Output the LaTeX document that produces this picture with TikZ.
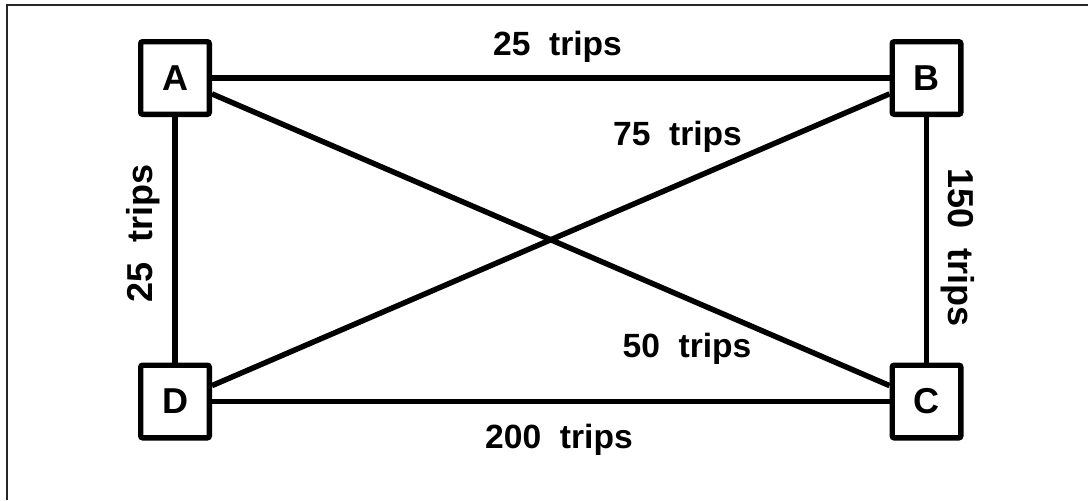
\documentclass[tikz,border=0pt]{standalone}
\usepackage{fontspec}
\setmainfont{Liberation Sans}
\begin{document}
\begin{tikzpicture}[x=0.75pt,y=-0.75pt,
  site/.style={draw=black, line width=4.1pt, rounded corners=1.5pt, fill=white,
    minimum width=51.4pt, minimum height=54.4pt, inner sep=0pt,
    font=\bfseries\fontsize{27}{30}\selectfont},
  link/.style={draw=black, line width=4.1pt},
  lbl/.style={inner sep=0pt, anchor=base, font=\bfseries\fontsize{25.2}{30}\selectfont},
  vlbl/.style={lbl, font=\bfseries\fontsize{27}{30}\selectfont},
  frame/.style={draw=black!85, line width=1.5pt}]
\useasboundingbox (0,0) rectangle (1088,500);
\coordinate (f1) at (6.5,500);
\coordinate (f2) at (6.5,5);
\coordinate (f3) at (1088,5);
\draw[frame] (f1) -- (f2) -- (f3);
\node[site] (A) at (175,78) {A};
\node[site] (B) at (926.5,78) {B};
\node[site] (C) at (926.5,401.5) {C};
\node[site] (D) at (175,401.5) {D};
\draw[link] (A) -- (B);
\draw[link] (A) -- (D);
\draw[link] (B) -- (C);
\draw[link] (D) -- (C);
\draw[link] (A) -- (C);
\draw[link] (D) -- (B);
\node[lbl] (lab) at (557.5,55) {25\ \ trips};
\node[lbl] (lbd) at (677.5,145) {75\ \ trips};
\node[lbl] (lac) at (687,357) {50\ \ trips};
\node[lbl] (ldc) at (559,448) {200\ \ trips};
\node[vlbl, rotate=90] (lad) at (152,233) {25\ \ trips};
\node[vlbl, rotate=-90] (lbc) at (948,247.5) {150\ \ trips};
\end{tikzpicture}
\end{document}
